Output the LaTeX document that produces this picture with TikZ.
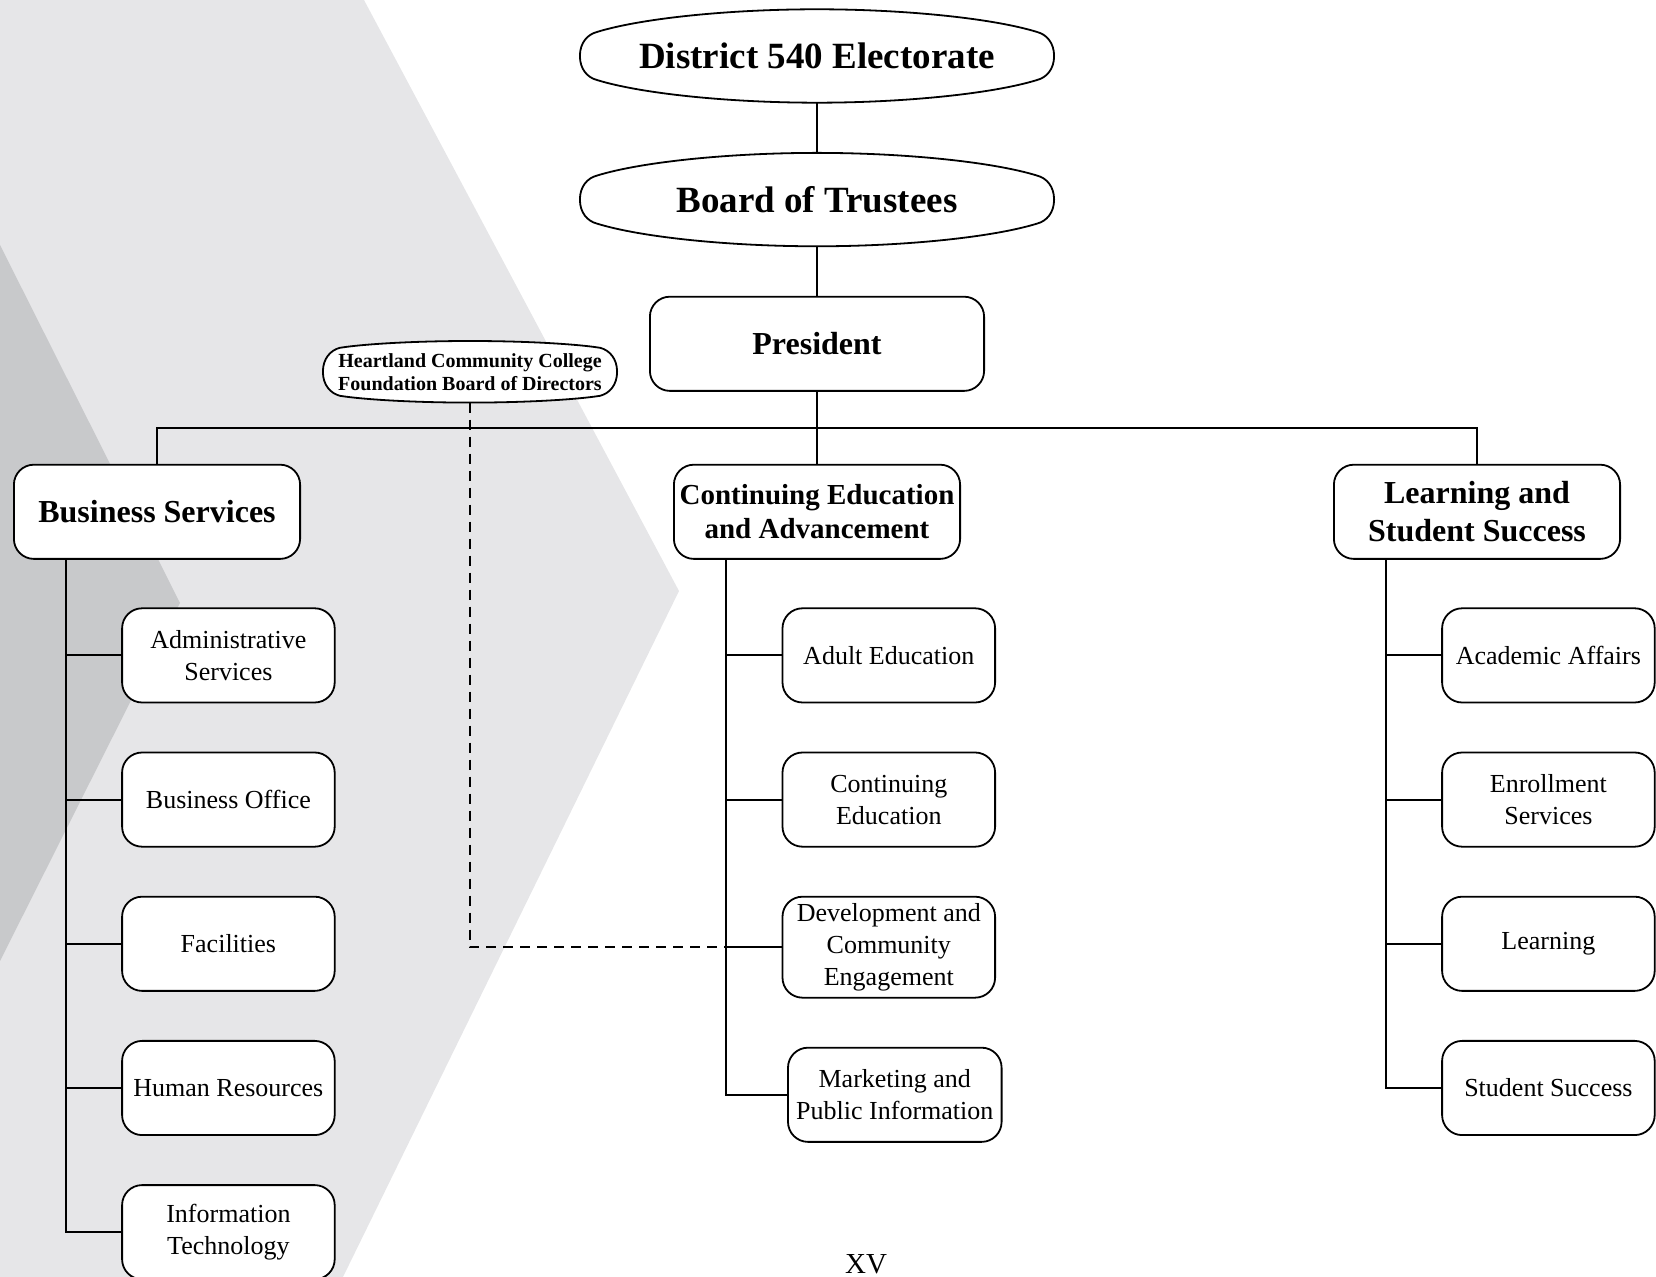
\documentclass[tikz,border=0pt]{standalone}
\usepackage{fontspec}
\setmainfont{Liberation Serif}
\usetikzlibrary{positioning,calc}
\definecolor{paneLight}{HTML}{E6E6E8}
\definecolor{paneDark}{HTML}{C8C9CB}
\pgfdeclarelayer{panes}
\pgfdeclarelayer{shells}
\pgfsetlayers{panes,shells,main}

% blunt oval drawn round a text node
\newcommand{\ovalshell}[1]{%
  \draw[shell] let \p0=(#1.center), \p1=($(#1.north east)-(#1.center)$) in
    (\x0+\x1,\y0)
    .. controls (\x0+\x1,\y0+6.6pt) and (\x0+\x1-3.8pt,\y0+10.8pt) .. (\x0+\x1-8.5pt,\y0+12pt)
    .. controls (\x0+0.8*\x1-6.8pt,\y0+0.6*\y1+4.8pt) and (\x0+0.4*\x1-3.4pt,\y0+\y1) .. (\x0,\y0+\y1)
    .. controls (\x0-0.4*\x1+3.4pt,\y0+\y1) and (\x0-0.8*\x1+6.8pt,\y0+0.6*\y1+4.8pt) .. (\x0-\x1+8.5pt,\y0+12pt)
    .. controls (\x0-\x1+3.8pt,\y0+10.8pt) and (\x0-\x1,\y0+6.6pt) .. (\x0-\x1,\y0)
    .. controls (\x0-\x1,\y0-6.6pt) and (\x0-\x1+3.8pt,\y0-10.8pt) .. (\x0-\x1+8.5pt,\y0-12pt)
    .. controls (\x0-0.8*\x1+6.8pt,\y0-0.6*\y1-4.8pt) and (\x0-0.4*\x1+3.4pt,\y0-\y1) .. (\x0,\y0-\y1)
    .. controls (\x0+0.4*\x1-3.4pt,\y0-\y1) and (\x0+0.8*\x1-6.8pt,\y0-0.6*\y1-4.8pt) .. (\x0+\x1-8.5pt,\y0-12pt)
    .. controls (\x0+\x1-3.8pt,\y0-10.8pt) and (\x0+\x1,\y0-6.6pt) .. (\x0+\x1,\y0) -- cycle;}

\begin{document}
\begin{tikzpicture}[
    node distance=25pt,
    oval/.style={rectangle, minimum width=237.1pt, minimum height=46.7pt, inner sep=0pt, outer sep=0pt, font=\fontsize{18.5}{22}\selectfont\bfseries},
    shell/.style={draw=black, fill=white, line width=0.9pt, line join=round},
    chief/.style={rectangle, draw=black, fill=white, rounded corners=10pt, line width=0.9pt, outer sep=0pt, minimum width=167.1pt, minimum height=47.1pt, font=\fontsize{16}{19}\selectfont\bfseries},
    division/.style={rectangle, draw=black, fill=white, rounded corners=10pt, line width=0.9pt, outer sep=0pt, minimum width=143.1pt, minimum height=47.1pt, inner xsep=2pt, align=center, font=\fontsize{16}{19}\selectfont\bfseries},
    unit/.style={rectangle, draw=black, fill=white, rounded corners=10pt, line width=0.9pt, outer sep=0pt, minimum width=106.3pt, minimum height=47.1pt, inner xsep=2pt, align=center, font=\fontsize{13}{16}\selectfont},
    link/.style={line width=1pt},
    liaison/.style={line width=1pt, dash pattern=on 5pt off 3.5pt}
]
\useasboundingbox (0,0) rectangle (828pt,-638.5pt);

% Background panes
\begin{pgfonlayer}{panes}
\fill[paneLight] (0,0) -- (182pt,0) -- (339.5pt,-295.5pt) -- (171.5pt,-638.5pt) -- (0,-638.5pt) -- cycle;
\fill[paneDark] (0,-122.5pt) -- (90pt,-301.5pt) -- (0,-480.5pt) -- cycle;
\end{pgfonlayer}

% Nodes
\node[oval] (electorate) at (408.5pt,-28pt) {District 540 Electorate};
\node[oval, below=25.1pt of electorate] (trustees) {Board of Trustees};
\node[chief, below=25.2pt of trustees] (president) {President};
\node[oval, minimum width=147.1pt, minimum height=30.8pt, align=center, font=\fontsize{10}{11.5}\selectfont\bfseries] (foundation) at (235pt,-185.9pt) {Heartland Community College\\Foundation Board of Directors};

\node[division, below=36.9pt of president, font=\fontsize{14.5}{17}\selectfont\bfseries] (cea) {Continuing Education\\and Advancement};
\node[division, left=186.9pt of cea] (business) {Business Services};
\node[division, right=186.9pt of cea] (learning) {Learning and\\Student Success};

\node[unit, below=24.7pt of business, xshift=35.7pt] (admin) {Administrative\\Services};
\node[unit, below=of admin] (office) {Business Office};
\node[unit, below=of office] (facilities) {Facilities};
\node[unit, below=of facilities] (hr) {Human Resources};
\node[unit, below=of hr] (it) {Information\\Technology};

\node[unit, below=24.7pt of cea, xshift=35.9pt] (adult) {Adult Education};
\node[unit, below=of adult] (coned) {Continuing\\Education};
\node[unit, below=of coned] (dev) {Development and\\Community\\Engagement};
\node[unit, below=of dev, xshift=3pt, minimum width=106.8pt] (marketing) {Marketing and\\Public Information};

\node[unit, below=24.7pt of learning, xshift=35.7pt] (academic) {Academic Affairs};
\node[unit, below=of academic] (enroll) {Enrollment\\Services};
\node[unit, below=of enroll] (learn) {Learning};
\node[unit, below=of learn] (success) {Student Success};

\node[anchor=base, font=\fontsize{14.5}{17}\selectfont] (folio) at (433pt,-636.5pt) {XV};

\begin{pgfonlayer}{shells}
\ovalshell{electorate}
\ovalshell{trustees}
\ovalshell{foundation}
\end{pgfonlayer}

% Lines
\coordinate (bus) at ($(president.south)!0.5!(cea.north)$);
\coordinate (busTree) at ([xshift=26pt]business.south west);
\coordinate (ceaTree) at ([xshift=26pt]cea.south west);
\coordinate (lssTree) at ([xshift=26pt]learning.south west);

\draw[link] (electorate) -- (trustees);
\draw[link] (trustees) -- (president);
\draw[link] (president) -- (cea);
\draw[link] (business.north) |- (bus) -| (learning.north);

\draw[link] (busTree) |- (admin.west);
\draw[link] (busTree) |- (office.west);
\draw[link] (busTree) |- (facilities.west);
\draw[link] (busTree) |- (hr.west);
\draw[link] (busTree) |- (it.west);

\draw[link] (ceaTree) |- (adult.west);
\draw[link] (ceaTree) |- (coned.west);
\draw[link] (ceaTree) |- (dev.west);
\draw[link] (ceaTree) |- (marketing.west);

\draw[link] (lssTree) |- (academic.west);
\draw[link] (lssTree) |- (enroll.west);
\draw[link] (lssTree) |- (learn.west);
\draw[link] (lssTree) |- (success.west);

\draw[liaison] (foundation.south) |- (dev.west -| ceaTree);

\end{tikzpicture}
\end{document}
